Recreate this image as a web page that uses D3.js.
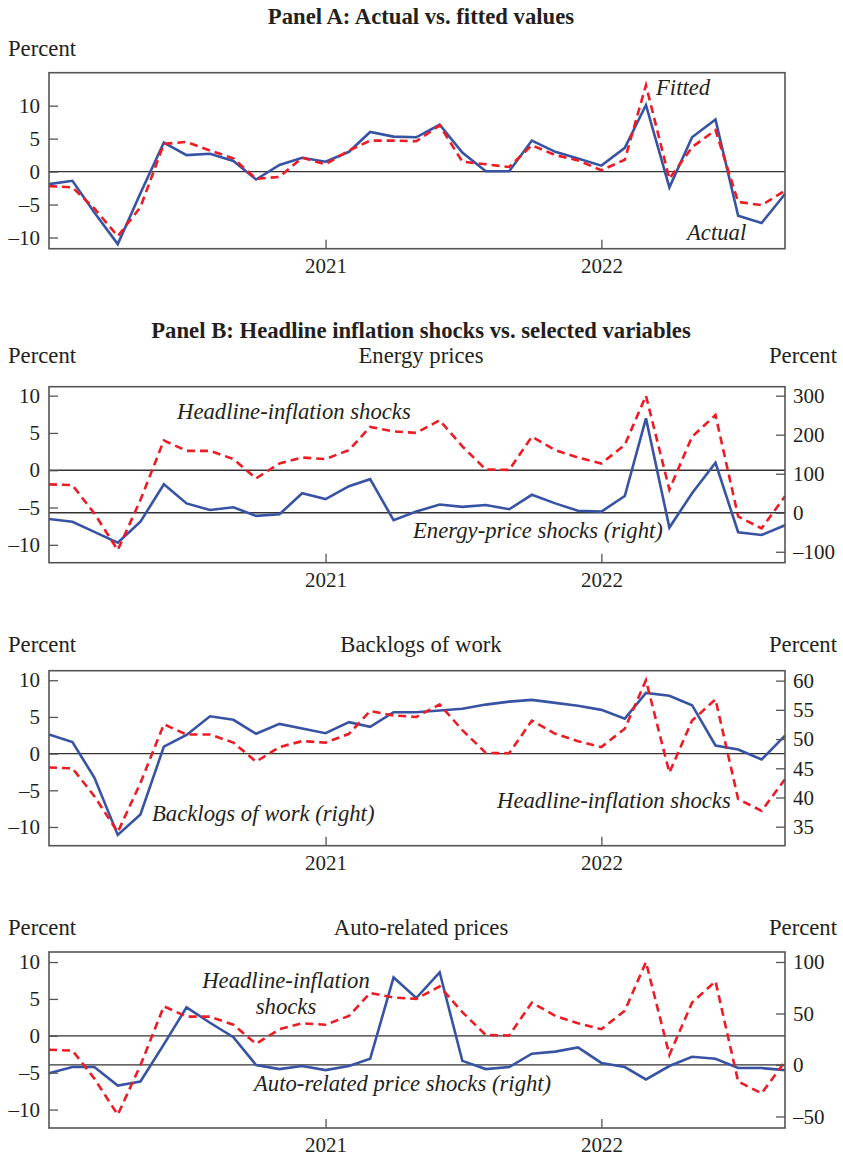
<!DOCTYPE html>
<html>
<head>
<meta charset="utf-8">
<script src="https://cdn.jsdelivr.net/npm/d3@7"></script>
<style>
  body { margin: 0; background: #fff; }
  svg text { font-family: "Liberation Serif", "Times New Roman", serif; fill: #231f20; }
</style>
</head>
<body>
<div id="chart"></div>
<script>
// monthly observations, Jan 2020 - Sep 2022
const months = ["2020-01","2020-02","2020-03","2020-04","2020-05","2020-06","2020-07","2020-08","2020-09","2020-10","2020-11","2020-12",
                "2021-01","2021-02","2021-03","2021-04","2021-05","2021-06","2021-07","2021-08","2021-09","2021-10","2021-11","2021-12",
                "2022-01","2022-02","2022-03","2022-04","2022-05","2022-06","2022-07","2022-08","2022-09"];
const yearTicks = ["2021-01", "2022-01"];

// Panel A
const actual = [-1.9, -1.4, -6.2, -11.0, -3.3, 4.4, 2.5, 2.7, 1.6, -1.2, 1.0, 2.1, 1.5, 3.0, 6.0, 5.3, 5.2, 7.1, 2.9, 0.05, 0.05, 4.7, 3.0, 2.0, 0.9, 3.6, 10.1, -2.4, 5.2, 7.9, -6.7, -7.8, -3.4];
const fitted = [-2.2, -2.4, -5.6, -9.8, -5.4, 4.2, 4.5, 3.2, 2.0, -1.1, -0.8, 2.1, 1.1, 3.2, 4.7, 4.7, 4.6, 7.0, 1.5, 1.1, 0.7, 4.0, 2.5, 1.7, 0.2, 1.8, 13.1, -1.1, 3.7, 6.3, -4.6, -5.1, -2.9];

// Panel B
const headline = [-1.9, -2.0, -5.8, -10.7, -4.0, 4.0, 2.6, 2.6, 1.5, -1.1, 0.9, 1.7, 1.5, 2.7, 5.8, 5.2, 5.0, 6.7, 3.2, 0.1, 0.05, 4.5, 2.7, 1.7, 0.9, 3.4, 10.0, -2.6, 4.5, 7.4, -6.2, -7.8, -3.5];
const energy = [-16, -23, -49, -77, -23, 73, 24, 7, 14, -8, -4, 50, 35, 68, 86, -19, 3, 21, 15, 20, 9, 46, 24, 5, 3, 43, 242, -38, 50, 128, -50, -57, -32];
const backlog = [50.8, 49.5, 43.4, 33.6, 37.1, 48.7, 50.7, 53.9, 53.3, 50.9, 52.6, 51.8, 51.0, 52.9, 52.1, 54.6, 54.6, 54.9, 55.2, 55.9, 56.4, 56.7, 56.2, 55.7, 55.0, 53.5, 57.9, 57.4, 55.8, 48.9, 48.2, 46.5, 50.6];
const autoPrices = [-8, -2, -2, -20, -16, 20, 56, 41, 27, 0, -4, -1, -5, -1, 6, 85, 65, 90, 4, -4, -2, 11, 13, 17, 2, -2, -14, -1, 8, 6, -3, -3, -5];

const leftTicks = [-10, -5, 0, 5, 10];
const energyTicks = [-100, 0, 100, 200, 300];
const backlogTicks = [35, 40, 45, 50, 55, 60];
const autoTicks = [-50, 0, 50, 100];

const W = 843, H = 1157;
const BLUE = "#3953a4", RED = "#ed1c24";
const TXT = 22.7;
const parseMonth = d3.timeParse("%Y-%m");
const dates = months.map(parseMonth);

const svg = d3.select("#chart").append("svg")
    .attr("width", W)
    .attr("height", H);

const x = d3.scaleTime()
    .domain(d3.extent(dates))
    .range([49, 785]);

const minus = d => d < 0 ? "\u2013" + Math.abs(d) : d;

const drawPanel = (p) => {
    const yL = d3.scaleLinear().domain(p.leftDomain).range([p.bottom, p.top]);
    const yR = p.rightDomain ? d3.scaleLinear().domain(p.rightDomain).range([p.bottom, p.top]) : null;
    const g = svg.append("g");

    // zero lines
    const zeros = [yL(0)];
    if (yR && p.rightZero) zeros.push(yR(0));
    zeros.forEach(yz => {
        g.append("line")
            .attr("x1", x.range()[0]).attr("x2", x.range()[1])
            .attr("y1", yz).attr("y2", yz)
            .attr("stroke", "#333").attr("stroke-width", 1.3);
    });

    // series
    p.series.forEach(s => {
        const y = s.right ? yR : yL;
        const line = d3.line()
            .x((d, i) => x(dates[i]))
            .y(d => y(d));
        g.append("path")
            .datum(s.values)
            .attr("d", line)
            .attr("fill", "none")
            .attr("stroke", s.color)
            .attr("stroke-width", 2.6)
            .attr("stroke-dasharray", s.dashed ? "8,5" : null);
    });

    // frame
    g.append("rect")
        .attr("x", x.range()[0]).attr("y", p.top)
        .attr("width", x.range()[1] - x.range()[0])
        .attr("height", p.bottom - p.top)
        .attr("fill", "none")
        .attr("stroke", "#555")
        .attr("stroke-width", 1.6);

    // axes, ticks pointing inward
    g.append("g")
        .attr("transform", "translate(" + x.range()[0] + ",0)")
        .call(d3.axisLeft(yL).tickValues(leftTicks).tickSize(-9).tickPadding(9).tickFormat(minus));
    if (yR) {
        g.append("g")
            .attr("transform", "translate(" + x.range()[1] + ",0)")
            .call(d3.axisRight(yR).tickValues(p.rightTicks).tickSize(-9).tickPadding(8).tickFormat(minus));
    }
    g.append("g")
        .attr("transform", "translate(0," + p.bottom + ")")
        .call(d3.axisBottom(x).tickValues(yearTicks.map(parseMonth)).tickSize(-9).tickPadding(9)
            .tickFormat(d3.timeFormat("%Y")));

    g.selectAll(".domain").remove();
    g.selectAll(".tick line").attr("stroke", "#555").attr("stroke-width", 1.3);
    g.selectAll(".tick text").attr("font-size", 21).attr("fill", "#231f20");

    // headers
    g.append("text").attr("x", 8).attr("y", p.unitY)
        .attr("font-size", TXT).text("Percent");
    if (yR) {
        g.append("text").attr("x", 837).attr("y", p.unitY)
            .attr("text-anchor", "end").attr("font-size", TXT).text("Percent");
    }
    if (p.subtitle) {
        g.append("text").attr("x", 421).attr("y", p.unitY)
            .attr("text-anchor", "middle").attr("font-size", TXT).text(p.subtitle);
    }

    // in-plot labels
    p.labels.forEach(l => {
        g.append("text")
            .attr("x", l.x).attr("y", l.y)
            .attr("text-anchor", l.anchor || "start")
            .attr("font-size", TXT)
            .attr("font-style", "italic")
            .text(l.text);
    });
};

// titles
svg.append("text").attr("x", 421).attr("y", 24)
    .attr("text-anchor", "middle").attr("font-size", TXT).attr("font-weight", "bold")
    .text("Panel A: Actual vs. fitted values");
svg.append("text").attr("x", 421).attr("y", 338)
    .attr("text-anchor", "middle").attr("font-size", TXT).attr("font-weight", "bold")
    .text("Panel B: Headline inflation shocks vs. selected variables");

drawPanel({
    top: 72.7, bottom: 248.7, unitY: 56,
    leftDomain: [-11.7, 15],
    series: [
        { values: actual, color: BLUE },
        { values: fitted, color: RED, dashed: true }
    ],
    labels: [
        { text: "Fitted", x: 656, y: 95 },
        { text: "Actual", x: 687, y: 240 }
    ]
});

drawPanel({
    top: 386.7, bottom: 562.7, unitY: 363, subtitle: "Energy prices",
    leftDomain: [-12.4, 11.2], rightDomain: [-128, 323], rightTicks: energyTicks, rightZero: true,
    series: [
        { values: energy, color: BLUE, right: true },
        { values: headline, color: RED, dashed: true }
    ],
    labels: [
        { text: "Headline-inflation shocks", x: 177, y: 419 },
        { text: "Energy-price shocks (right)", x: 413, y: 538 }
    ]
});

drawPanel({
    top: 670.7, bottom: 845.7, unitY: 652, subtitle: "Backlogs of work",
    leftDomain: [-12.55, 11.3], rightDomain: [31.75, 61.7], rightTicks: backlogTicks, rightZero: false,
    series: [
        { values: backlog, color: BLUE, right: true },
        { values: headline, color: RED, dashed: true }
    ],
    labels: [
        { text: "Backlogs of work (right)", x: 152, y: 821 },
        { text: "Headline-inflation shocks", x: 497, y: 808 }
    ]
});

drawPanel({
    top: 952, bottom: 1128, unitY: 935, subtitle: "Auto-related prices",
    leftDomain: [-12.5, 11.36], rightDomain: [-61.2, 109.7], rightTicks: autoTicks, rightZero: true,
    series: [
        { values: autoPrices, color: BLUE, right: true },
        { values: headline, color: RED, dashed: true }
    ],
    labels: [
        { text: "Headline-inflation", x: 286, y: 988, anchor: "middle" },
        { text: "shocks", x: 286, y: 1014, anchor: "middle" },
        { text: "Auto-related price shocks (right)", x: 254, y: 1091 }
    ]
});
</script>
</body>
</html>
